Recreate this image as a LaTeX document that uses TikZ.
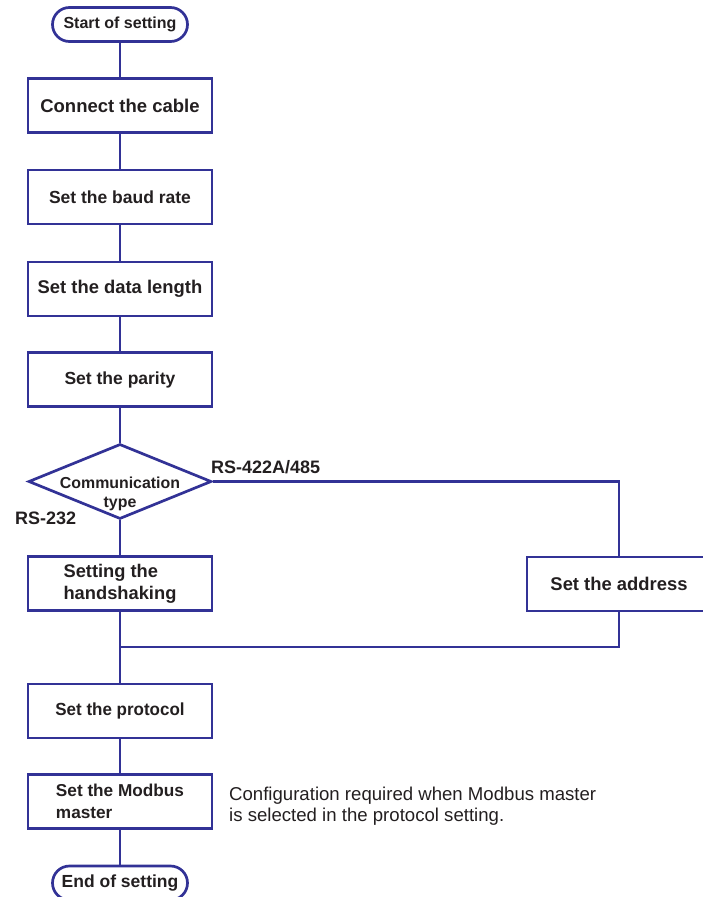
\documentclass[tikz,border=0pt]{standalone}
\usepackage{fontspec}
\setmainfont{Liberation Sans}
\newfontfamily\condfont[FakeStretch=0.97]{Liberation Sans}
\usepackage{tikz}
\usetikzlibrary{shapes.geometric}
\definecolor{flowblue}{RGB}{50,50,150}
\definecolor{ink}{RGB}{35,31,32}
\def\fs#1{\fontsize{#1}{22}\selectfont}
\tikzstyle{flowline} = [draw=flowblue, line width=2.7pt]
\tikzstyle{stepbox} = [rectangle, draw=flowblue, line width=2.7pt, minimum width=184pt, minimum height=54pt, inner sep=0pt, align=center, text=ink, font=\bfseries\fs{17.5}]
\tikzstyle{termbox} = [rectangle, rounded corners=17pt, draw=flowblue, line width=2.7pt, minimum width=135pt, minimum height=34pt, inner sep=0pt, text=ink]
\tikzstyle{decision} = [diamond, draw=flowblue, line width=2.7pt, minimum width=183pt, minimum height=75pt, inner sep=0pt]
\tikzstyle{decisiontext} = [align=center, inner sep=0pt, text=ink, font=\bfseries\fontsize{15.9}{19}\selectfont]
\tikzstyle{branchlabel} = [inner sep=0pt, text=ink, font=\bfseries\fs{18}]
\tikzstyle{note} = [inner sep=0pt, align=left, text=ink, font=\fontsize{18.6}{21}\selectfont]

\begin{document}
\begin{tikzpicture}[x=1pt, y=-1pt]
\useasboundingbox (0, 0) rectangle (703, 897);

% Terminals and main column of steps
\node[termbox, font=\bfseries\fs{16}] (start) at (120, 24.5) {Start of setting};
\node[stepbox, font=\bfseries\fs{18.5}] (cable) at (120, 105.5) {Connect the cable};
\node[stepbox] (baud) at (120, 197) {Set the baud rate};
\node[stepbox, font=\bfseries\fs{18.4}] (length) at (120, 289) {Set the data length};
\node[stepbox] (parity) at (120, 379.5) {Set the parity};
% Branch on the communication type
\node[decision] (comm) at (120, 481.5) {};
\node[decisiontext] (commtext) at (120, 494) {Communication\\type};
\node[branchlabel, anchor=base west] (rs422) at (211, 473) {RS-422A/485};
\node[branchlabel, anchor=base west] (rs232) at (15, 524) {RS-232};
% RS-232 side and RS-422A/485 side
\node[stepbox, align=left, font=\bfseries\fontsize{18.3}{22}\selectfont] (hand) at (120, 583.5) {Setting the\\handshaking};
\node[stepbox, font=\bfseries\fs{18.4}] (addr) at (619, 584) {Set the address};
\coordinate (join) at (120, 647);
% Common steps after the branch
\node[stepbox, font=\condfont\bfseries\fs{17.5}] (proto) at (120, 711) {Set the protocol};
\node[stepbox, align=left, font=\bfseries\fs{17.2}] (modbus) at (120, 801.5) {Set the Modbus\\\rule{0pt}{15pt}master};
\node[termbox, font=\bfseries\fs{17.5}] (end) at (120, 883) {End of setting};
\node[note, anchor=west] (modnote) at (229, 806) {Configuration required when Modbus master\\is selected in the protocol setting.};

% Connectors
\draw[flowline] (start) -- (cable);
\draw[flowline] (cable) -- (baud);
\draw[flowline] (baud) -- (length);
\draw[flowline] (length) -- (parity);
\draw[flowline] (parity) -- (comm);
\draw[flowline] (comm) -- (hand);
\draw[flowline] (comm.east) -| (addr.north);
\draw[flowline] (addr.south) |- (join);
\draw[flowline] (hand) -- (proto);
\draw[flowline] (proto) -- (modbus);
\draw[flowline] (modbus) -- (end);
\end{tikzpicture}
\end{document}
